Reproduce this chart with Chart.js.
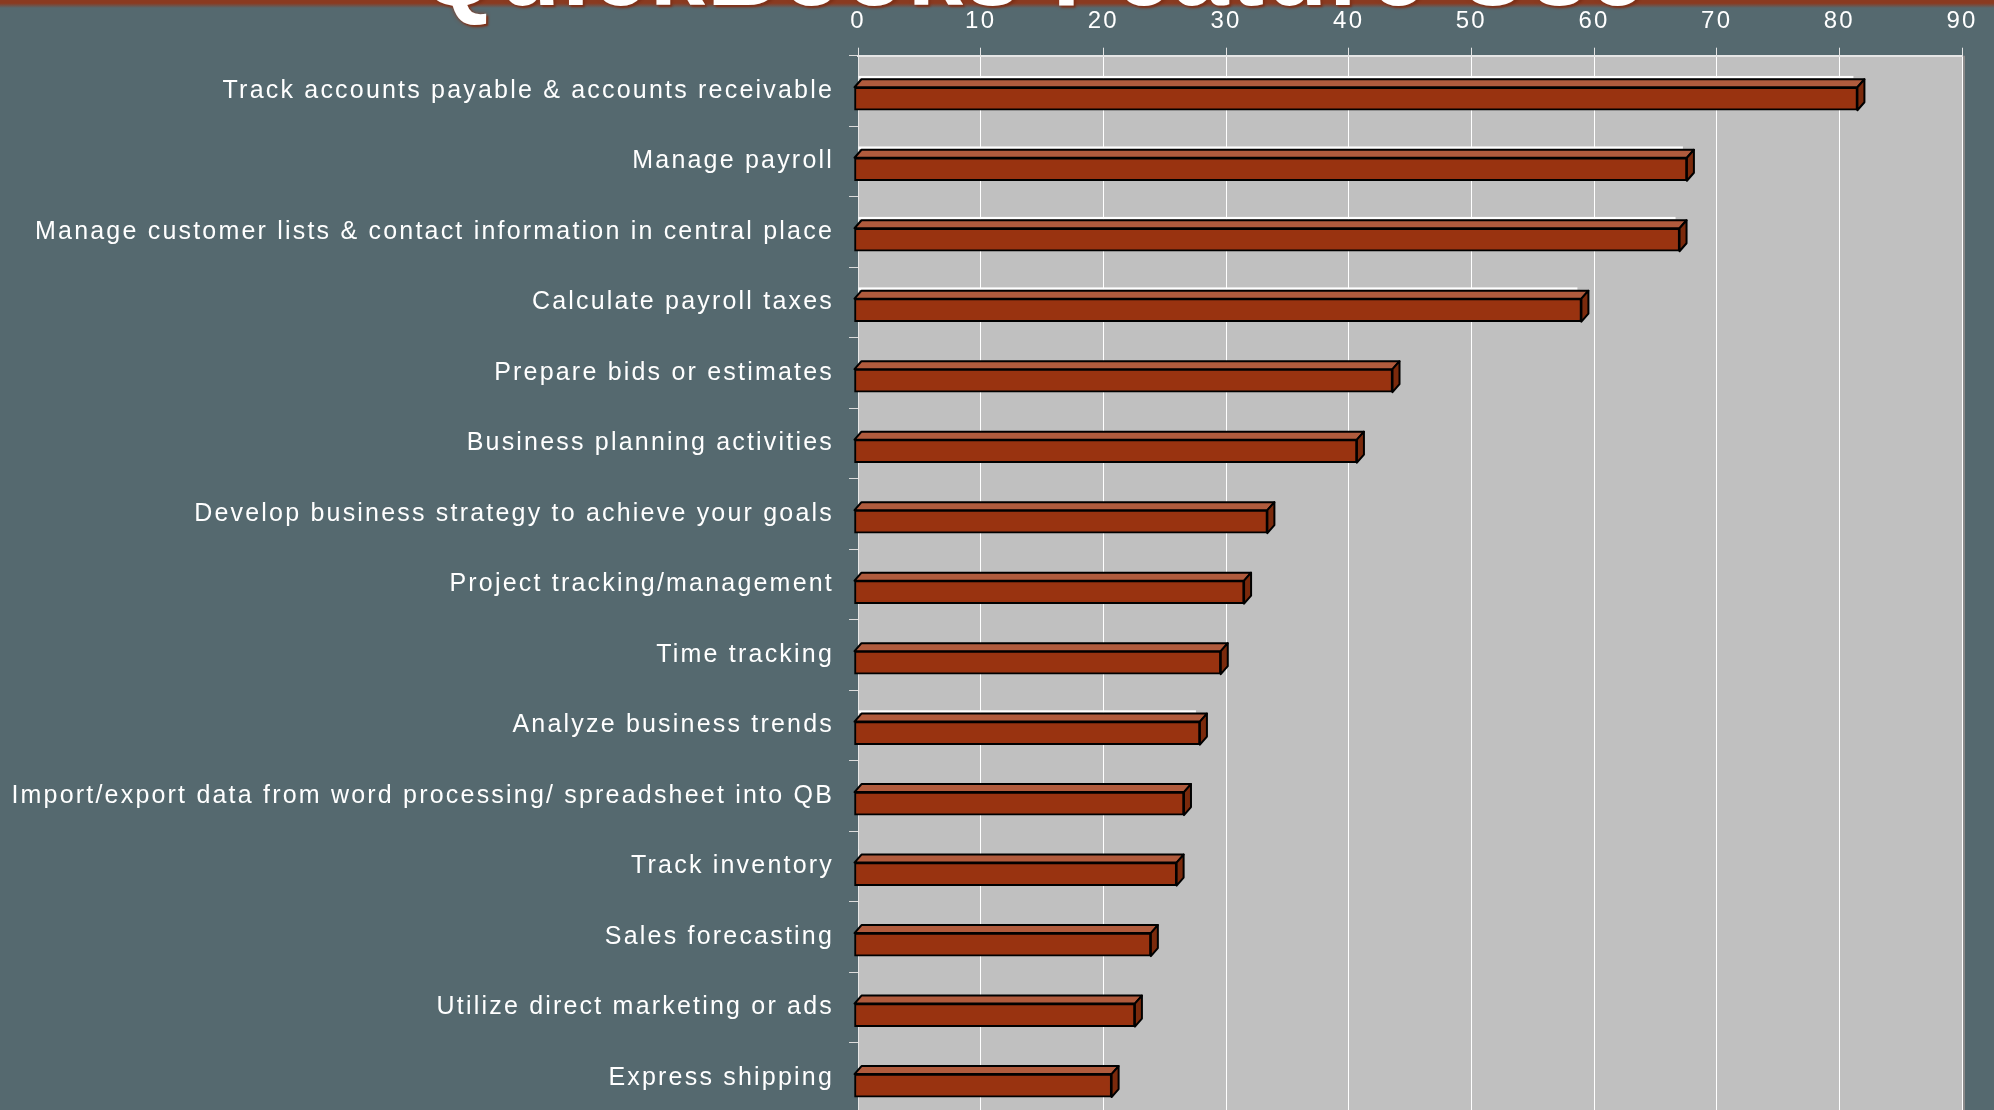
<!DOCTYPE html>
<html>
<head>
<meta charset="utf-8">
<script src="https://cdn.jsdelivr.net/npm/chart.js@4/dist/chart.umd.min.js"></script>
<style>
  html, body { margin: 0; padding: 0; width: 1994px; height: 1110px; overflow: hidden; background: #55696f; }
  #band { position: absolute; left: 0; top: 0; width: 1994px; height: 8px;
          background: linear-gradient(#8a3a20 0, #8a3a20 40%, rgba(85,105,111,0) 100%); }
  #title { position: absolute; left: 0; top: -80px; width: 2066px; text-align: center; z-index: 2;
           font: bold 100px "Liberation Sans", Arial, sans-serif; line-height: 100px; letter-spacing: 2px;
           color: #fff; text-shadow: 0 0 4px #8a3a20, 2px 2px 2px #7a2e16; white-space: nowrap; }
  #wrap { position: absolute; left: 0; top: 0; width: 1994px; height: 1143px; }
</style>
</head>
<body>
<div id="band"></div>
<div id="title">QuickBooks Feature Use</div>
<div id="wrap"><canvas id="chart"></canvas></div>
<script>
const features = [
    'Track accounts payable & accounts receivable',
    'Manage payroll',
    'Manage customer lists & contact information in central place',
    'Calculate payroll taxes',
    'Prepare bids or estimates',
    'Business planning activities',
    'Develop business strategy to achieve your goals',
    'Project tracking/management',
    'Time tracking',
    'Analyze business trends',
    'Import/export data from word processing/ spreadsheet into QB',
    'Track inventory',
    'Sales forecasting',
    'Utilize direct marketing or ads',
    'Express shipping'];
const usage = [81.8, 67.9, 67.3, 59.3, 43.9, 41.0, 33.7, 31.8, 29.9, 28.2, 26.9, 26.3, 24.2, 22.9, 21.0];
const axisMax = 90;
const axisStep = 10;
// bars that show the thin white rim above their top face
const rimBars = [0, 1, 2, 3, 9];

const FRONT_DX = -4, FRONT_DY = 7.8, DEPTH_X = 7, DEPTH_Y = 8;

const bars3d = {
    id: 'bars3d',
    beforeLayout(chart) { chart.ctx.letterSpacing = '2.2px'; },
    beforeDraw(chart) {
        const {ctx, chartArea: a} = chart;
        ctx.letterSpacing = '2.2px';
        ctx.save();
        ctx.fillStyle = '#c0c0c0';
        ctx.fillRect(a.left, a.top, a.right - a.left, a.bottom - a.top);
        ctx.fillStyle = '#8a8a8a';
        ctx.fillRect(a.right, a.top, 3, a.bottom - a.top);
        ctx.restore();
    },
    beforeDatasetsDraw(chart) {
        const ctx = chart.ctx;
        const meta = chart.getDatasetMeta(0);
        ctx.save();
        ctx.lineWidth = 2;
        ctx.strokeStyle = '#000';
        ctx.lineJoin = 'round';
        meta.data.forEach((el, i) => {
            const {x, y, base, height} = el.getProps(['x', 'y', 'base', 'height'], true);
            const top = y + FRONT_DY - height / 2;
            const bot = y + FRONT_DY + height / 2;
            const fl = base + FRONT_DX, fr = x + FRONT_DX;
            if (rimBars.includes(i)) {
                ctx.fillStyle = '#fff';
                ctx.fillRect(base, top - DEPTH_Y - 3.3, x - 8 - base, 2.5);
            }
            ctx.beginPath();
            ctx.moveTo(fl, top); ctx.lineTo(fr, top);
            ctx.lineTo(fr + DEPTH_X, top - DEPTH_Y); ctx.lineTo(fl + DEPTH_X, top - DEPTH_Y);
            ctx.closePath();
            ctx.fillStyle = '#b05b3d';
            ctx.fill(); ctx.stroke();
            ctx.beginPath();
            ctx.moveTo(fr, top); ctx.lineTo(fr + DEPTH_X, top - DEPTH_Y);
            ctx.lineTo(fr + DEPTH_X, bot - DEPTH_Y); ctx.lineTo(fr, bot);
            ctx.closePath();
            ctx.fillStyle = '#7b2a0c';
            ctx.fill(); ctx.stroke();
        });
        ctx.restore();
        ctx.save();
        ctx.translate(FRONT_DX, FRONT_DY);
    },
    afterDatasetsDraw(chart) { chart.ctx.restore(); }
};

new Chart(document.getElementById('chart'), {
    type: 'bar',
    data: {
        labels: features,
        datasets: [{
            data: usage,
            backgroundColor: '#993310',
            borderColor: '#000',
            borderWidth: 2,
            borderSkipped: false,
            barThickness: 23,
            clip: false
        }]
    },
    options: {
        indexAxis: 'y',
        responsive: true,
        maintainAspectRatio: false,
        animation: false,
        layout: {padding: {top: 4, right: 32, bottom: 0, left: 0}},
        plugins: {legend: {display: false}, tooltip: {enabled: false}},
        scales: {
            x: {
                position: 'top',
                min: 0, max: axisMax,
                afterFit: (axis) => { axis.height = 51.7; },
                ticks: {stepSize: axisStep, color: '#fff', padding: 12,
                    font: {family: '"Liberation Sans", Arial, sans-serif', size: 24}},
                grid: {color: '#ffffff', lineWidth: 1, tickLength: 8, tickColor: '#e4e4e4'},
                border: {color: '#e6e6e6', width: 2}
            },
            y: {
                afterFit: (axis) => { axis.width = 858; },
                ticks: {color: '#fff', padding: 15,
                    font: {family: '"Liberation Sans", Arial, sans-serif', size: 25}},
                grid: {drawOnChartArea: false, tickLength: 9, color: '#dcdcdc', offset: true},
                border: {color: '#e6e6e6', width: 1}
            }
        }
    },
    plugins: [bars3d]
});
</script>
</body>
</html>
